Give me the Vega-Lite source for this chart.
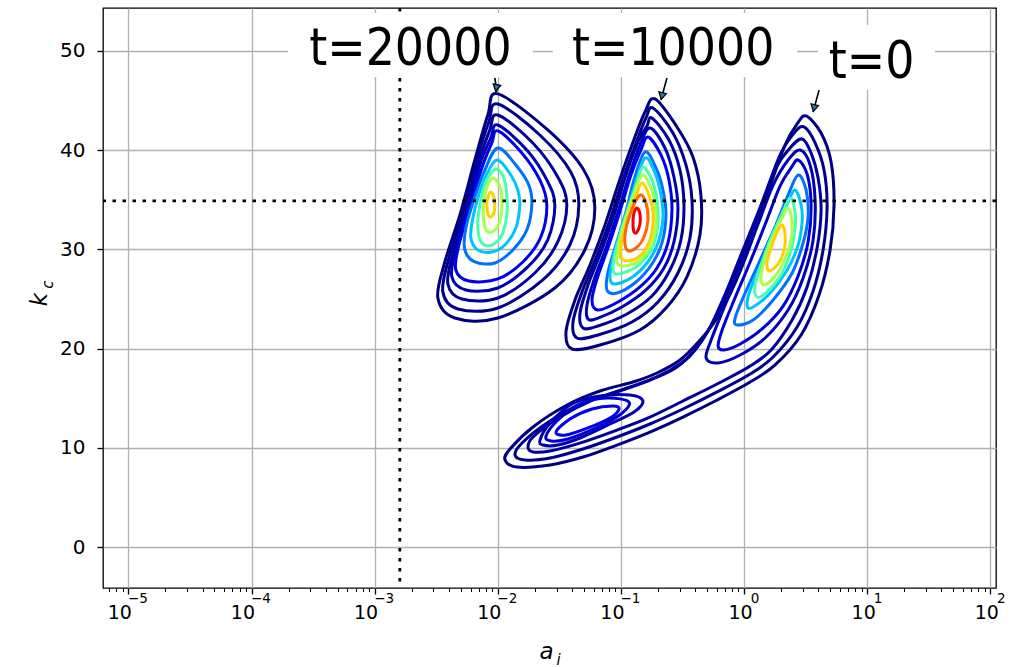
{
"$schema": "https://vega.github.io/schema/vega-lite/v6.json",
"width": 893, "height": 580,
"autosize": {"type": "none"},
"padding": {"left": 103, "top": 8, "right": 25, "bottom": 79},
"background": "white",
"config": {
 "view": {"stroke": "#000", "strokeWidth": 1.3},
 "axis": {"labelFont": "DejaVu Sans", "labelFontSize": 19, "labelColor": "#000", "tickColor": "#000", "tickWidth": 1.3, "tickSize": 6, "gridColor": "#b0b0b0", "gridWidth": 1.3, "domain": false, "labelFlush": false, "titleFont": "DejaVu Sans", "titleFontStyle": "italic", "titleFontWeight": "normal", "titleColor": "#000"}
},
"datasets": {
"contours": [
{"c":"A1","l":1,"o":0,"a":0.01,"k":45.67},{"c":"A1","l":1,"o":1,"a":0.02545,"k":42.04},{"c":"A1","l":1,"o":2,"a":0.04989,"k":38.0},{"c":"A1","l":1,"o":3,"a":0.0613,"k":34.27},{"c":"A1","l":1,"o":4,"a":0.05083,"k":29.94},{"c":"A1","l":1,"o":5,"a":0.02902,"k":26.11},{"c":"A1","l":1,"o":6,"a":0.01,"k":23.08},{"c":"A1","l":1,"o":7,"a":0.004477,"k":23.08},{"c":"A1","l":1,"o":8,"a":0.00326,"k":25.1},{"c":"A1","l":1,"o":9,"a":0.003713,"k":28.73},{"c":"A1","l":1,"o":10,"a":0.004917,"k":33.47},{"c":"A1","l":1,"o":11,"a":0.006506,"k":39.01},{"c":"A1","l":1,"o":12,"a":0.008296,"k":43.55},
{"c":"A2","l":2,"o":0,"a":0.01,"k":44.66},{"c":"A2","l":2,"o":1,"a":0.02193,"k":41.53},{"c":"A2","l":2,"o":2,"a":0.03913,"k":37.8},{"c":"A2","l":2,"o":3,"a":0.04545,"k":34.48},{"c":"A2","l":2,"o":4,"a":0.03841,"k":30.44},{"c":"A2","l":2,"o":5,"a":0.02319,"k":26.92},{"c":"A2","l":2,"o":6,"a":0.01,"k":24.09},{"c":"A2","l":2,"o":7,"a":0.004737,"k":23.99},{"c":"A2","l":2,"o":8,"a":0.003577,"k":25.71},{"c":"A2","l":2,"o":9,"a":0.004003,"k":29.13},{"c":"A2","l":2,"o":10,"a":0.005199,"k":33.67},{"c":"A2","l":2,"o":11,"a":0.006755,"k":39.01},{"c":"A2","l":2,"o":12,"a":0.008452,"k":42.84},
{"c":"A3","l":3,"o":0,"a":0.01,"k":43.55},{"c":"A3","l":3,"o":1,"a":0.01924,"k":40.73},{"c":"A3","l":3,"o":2,"a":0.03067,"k":37.3},{"c":"A3","l":3,"o":3,"a":0.03632,"k":34.48},{"c":"A3","l":3,"o":4,"a":0.03067,"k":30.75},{"c":"A3","l":3,"o":5,"a":0.01997,"k":27.62},{"c":"A3","l":3,"o":6,"a":0.01,"k":25.1},{"c":"A3","l":3,"o":7,"a":0.005103,"k":25.0},{"c":"A3","l":3,"o":8,"a":0.00393,"k":26.51},{"c":"A3","l":3,"o":9,"a":0.004313,"k":29.54},{"c":"A3","l":3,"o":10,"a":0.0055,"k":33.77},{"c":"A3","l":3,"o":11,"a":0.007012,"k":38.81},{"c":"A3","l":3,"o":12,"a":0.008612,"k":42.04},
{"c":"A4","l":4,"o":0,"a":0.01,"k":42.54},{"c":"A4","l":4,"o":1,"a":0.0172,"k":40.02},{"c":"A4","l":4,"o":2,"a":0.02499,"k":37.0},{"c":"A4","l":4,"o":3,"a":0.02902,"k":34.48},{"c":"A4","l":4,"o":4,"a":0.02545,"k":30.95},{"c":"A4","l":4,"o":5,"a":0.01751,"k":28.23},{"c":"A4","l":4,"o":6,"a":0.01,"k":26.11},{"c":"A4","l":4,"o":7,"a":0.0055,"k":25.91},{"c":"A4","l":4,"o":8,"a":0.004233,"k":27.22},{"c":"A4","l":4,"o":9,"a":0.004561,"k":29.94},{"c":"A4","l":4,"o":10,"a":0.00571,"k":33.97},{"c":"A4","l":4,"o":11,"a":0.007144,"k":38.51},{"c":"A4","l":4,"o":12,"a":0.008774,"k":41.23},
{"c":"A5","l":6,"o":0,"a":0.01,"k":41.94},{"c":"A5","l":6,"o":1,"a":0.01566,"k":39.72},{"c":"A5","l":6,"o":2,"a":0.02193,"k":37.0},{"c":"A5","l":6,"o":3,"a":0.02499,"k":34.48},{"c":"A5","l":6,"o":4,"a":0.02234,"k":31.25},{"c":"A5","l":6,"o":5,"a":0.01596,"k":28.73},{"c":"A5","l":6,"o":6,"a":0.01,"k":27.02},{"c":"A5","l":6,"o":7,"a":0.005817,"k":26.81},{"c":"A5","l":6,"o":8,"a":0.004561,"k":27.92},{"c":"A5","l":6,"o":9,"a":0.004826,"k":30.44},{"c":"A5","l":6,"o":10,"a":0.005927,"k":34.17},{"c":"A5","l":6,"o":11,"a":0.007416,"k":38.21},{"c":"A5","l":6,"o":12,"a":0.00894,"k":40.73},
{"c":"A6","l":7,"o":0,"a":0.01,"k":40.22},{"c":"A6","l":7,"o":1,"a":0.014,"k":38.51},{"c":"A6","l":7,"o":2,"a":0.01785,"k":36.49},{"c":"A6","l":7,"o":3,"a":0.01888,"k":34.48},{"c":"A6","l":7,"o":4,"a":0.0172,"k":31.96},{"c":"A6","l":7,"o":5,"a":0.01324,"k":29.94},{"c":"A6","l":7,"o":6,"a":0.009455,"k":28.63},{"c":"A6","l":7,"o":7,"a":0.006506,"k":28.73},{"c":"A6","l":7,"o":8,"a":0.005398,"k":29.94},{"c":"A6","l":7,"o":9,"a":0.0055,"k":32.16},{"c":"A6","l":7,"o":10,"a":0.006386,"k":34.98},{"c":"A6","l":7,"o":11,"a":0.007844,"k":38.0},
{"c":"A7","l":8,"o":0,"a":0.01,"k":39.01},{"c":"A7","l":8,"o":1,"a":0.01275,"k":37.5},{"c":"A7","l":8,"o":2,"a":0.01453,"k":35.99},{"c":"A7","l":8,"o":3,"a":0.01508,"k":34.48},{"c":"A7","l":8,"o":4,"a":0.014,"k":32.16},{"c":"A7","l":8,"o":5,"a":0.0114,"k":30.44},{"c":"A7","l":8,"o":6,"a":0.00894,"k":29.74},{"c":"A7","l":8,"o":7,"a":0.006882,"k":29.94},{"c":"A7","l":8,"o":8,"a":0.006038,"k":31.15},{"c":"A7","l":8,"o":9,"a":0.006267,"k":33.17},{"c":"A7","l":8,"o":10,"a":0.007012,"k":35.48},{"c":"A7","l":8,"o":11,"a":0.008296,"k":37.8},
{"c":"A8","l":9,"o":0,"a":0.009633,"k":38.1},{"c":"A8","l":9,"o":1,"a":0.01119,"k":37.2},{"c":"A8","l":9,"o":2,"a":0.01183,"k":35.48},{"c":"A8","l":9,"o":3,"a":0.01183,"k":33.47},{"c":"A8","l":9,"o":4,"a":0.01078,"k":31.45},{"c":"A8","l":9,"o":5,"a":0.00894,"k":30.44},{"c":"A8","l":9,"o":6,"a":0.007416,"k":30.65},{"c":"A8","l":9,"o":7,"a":0.006882,"k":32.16},{"c":"A8","l":9,"o":8,"a":0.007144,"k":34.48},{"c":"A8","l":9,"o":9,"a":0.007991,"k":36.79},
{"c":"A9","l":10,"o":0,"a":0.009108,"k":37.2},{"c":"A9","l":10,"o":1,"a":0.01038,"k":36.39},{"c":"A9","l":10,"o":2,"a":0.01078,"k":34.98},{"c":"A9","l":10,"o":3,"a":0.01058,"k":33.27},{"c":"A9","l":10,"o":4,"a":0.009633,"k":32.06},{"c":"A9","l":10,"o":5,"a":0.008296,"k":31.75},{"c":"A9","l":10,"o":6,"a":0.007698,"k":32.76},{"c":"A9","l":10,"o":7,"a":0.007698,"k":34.68},{"c":"A9","l":10,"o":8,"a":0.008142,"k":36.19},
{"c":"A10","l":11,"o":0,"a":0.008774,"k":35.79},{"c":"A10","l":11,"o":1,"a":0.00928,"k":35.28},{"c":"A10","l":11,"o":2,"a":0.009455,"k":34.48},{"c":"A10","l":11,"o":3,"a":0.00928,"k":33.67},{"c":"A10","l":11,"o":4,"a":0.008774,"k":33.27},{"c":"A10","l":11,"o":5,"a":0.008296,"k":33.57},{"c":"A10","l":11,"o":6,"a":0.008142,"k":34.48},{"c":"A10","l":11,"o":7,"a":0.008296,"k":35.28},
{"c":"B1","l":1,"o":0,"a":0.1888,"k":45.16},{"c":"B1","l":1,"o":1,"a":0.2849,"k":42.34},{"c":"B1","l":1,"o":2,"a":0.3841,"k":39.31},{"c":"B1","l":1,"o":3,"a":0.4457,"k":35.48},{"c":"B1","l":1,"o":4,"a":0.4377,"k":31.45},{"c":"B1","l":1,"o":5,"a":0.3433,"k":27.22},{"c":"B1","l":1,"o":6,"a":0.2362,"k":24.19},{"c":"B1","l":1,"o":7,"a":0.1426,"k":21.88},{"c":"B1","l":1,"o":8,"a":0.06755,"k":20.36},{"c":"B1","l":1,"o":9,"a":0.04003,"k":19.96},{"c":"B1","l":1,"o":10,"a":0.03577,"k":21.67},{"c":"B1","l":1,"o":11,"a":0.04233,"k":24.9},{"c":"B1","l":1,"o":12,"a":0.05603,"k":28.43},{"c":"B1","l":1,"o":13,"a":0.07416,"k":32.46},{"c":"B1","l":1,"o":14,"a":0.09455,"k":36.49},{"c":"B1","l":1,"o":15,"a":0.1228,"k":40.52},{"c":"B1","l":1,"o":16,"a":0.1566,"k":43.85},
{"c":"B2","l":2,"o":0,"a":0.1819,"k":44.25},{"c":"B2","l":2,"o":1,"a":0.2643,"k":41.73},{"c":"B2","l":2,"o":2,"a":0.337,"k":38.51},{"c":"B2","l":2,"o":3,"a":0.3771,"k":34.98},{"c":"B2","l":2,"o":4,"a":0.3632,"k":31.15},{"c":"B2","l":2,"o":5,"a":0.2902,"k":27.62},{"c":"B2","l":2,"o":6,"a":0.1997,"k":24.7},{"c":"B2","l":2,"o":7,"a":0.1228,"k":22.68},{"c":"B2","l":2,"o":8,"a":0.06506,"k":21.37},{"c":"B2","l":2,"o":9,"a":0.04394,"k":21.07},{"c":"B2","l":2,"o":10,"a":0.04078,"k":22.68},{"c":"B2","l":2,"o":11,"a":0.04826,"k":25.71},{"c":"B2","l":2,"o":12,"a":0.06267,"k":29.13},{"c":"B2","l":2,"o":13,"a":0.08142,"k":32.96},{"c":"B2","l":2,"o":14,"a":0.1019,"k":36.79},{"c":"B2","l":2,"o":15,"a":0.1324,"k":40.73},{"c":"B2","l":2,"o":16,"a":0.1596,"k":43.25},
{"c":"B3","l":3,"o":0,"a":0.1785,"k":43.25},{"c":"B3","l":3,"o":1,"a":0.2452,"k":41.03},{"c":"B3","l":3,"o":2,"a":0.3013,"k":38.0},{"c":"B3","l":3,"o":3,"a":0.3246,"k":34.48},{"c":"B3","l":3,"o":4,"a":0.3067,"k":30.95},{"c":"B3","l":3,"o":5,"a":0.2499,"k":27.92},{"c":"B3","l":3,"o":6,"a":0.1785,"k":25.3},{"c":"B3","l":3,"o":7,"a":0.1119,"k":23.49},{"c":"B3","l":3,"o":8,"a":0.06506,"k":22.28},{"c":"B3","l":3,"o":9,"a":0.04917,"k":22.08},{"c":"B3","l":3,"o":10,"a":0.04648,"k":23.59},{"c":"B3","l":3,"o":11,"a":0.05398,"k":26.41},{"c":"B3","l":3,"o":12,"a":0.06882,"k":29.74},{"c":"B3","l":3,"o":13,"a":0.08774,"k":33.47},{"c":"B3","l":3,"o":14,"a":0.1078,"k":37.2},{"c":"B3","l":3,"o":15,"a":0.1374,"k":40.83},{"c":"B3","l":3,"o":16,"a":0.1626,"k":42.44},
{"c":"B4","l":4,"o":0,"a":0.172,"k":42.24},{"c":"B4","l":4,"o":1,"a":0.2276,"k":40.22},{"c":"B4","l":4,"o":2,"a":0.2693,"k":37.3},{"c":"B4","l":4,"o":3,"a":0.2902,"k":34.17},{"c":"B4","l":4,"o":4,"a":0.2693,"k":30.75},{"c":"B4","l":4,"o":5,"a":0.2234,"k":28.13},{"c":"B4","l":4,"o":6,"a":0.1596,"k":25.91},{"c":"B4","l":4,"o":7,"a":0.1019,"k":24.19},{"c":"B4","l":4,"o":8,"a":0.06506,"k":23.08},{"c":"B4","l":4,"o":9,"a":0.05398,"k":22.98},{"c":"B4","l":4,"o":10,"a":0.05297,"k":24.4},{"c":"B4","l":4,"o":11,"a":0.06038,"k":26.92},{"c":"B4","l":4,"o":12,"a":0.07553,"k":30.14},{"c":"B4","l":4,"o":13,"a":0.09455,"k":33.77},{"c":"B4","l":4,"o":14,"a":0.1161,"k":37.4},{"c":"B4","l":4,"o":15,"a":0.1426,"k":40.52},
{"c":"B5","l":6,"o":0,"a":0.1657,"k":41.33},{"c":"B5","l":6,"o":1,"a":0.2111,"k":39.52},{"c":"B5","l":6,"o":2,"a":0.2452,"k":37.0},{"c":"B5","l":6,"o":3,"a":0.2594,"k":33.97},{"c":"B5","l":6,"o":4,"a":0.2407,"k":30.65},{"c":"B5","l":6,"o":5,"a":0.196,"k":28.13},{"c":"B5","l":6,"o":6,"a":0.1426,"k":26.21},{"c":"B5","l":6,"o":7,"a":0.09455,"k":24.7},{"c":"B5","l":6,"o":8,"a":0.06506,"k":23.89},{"c":"B5","l":6,"o":9,"a":0.05817,"k":24.9},{"c":"B5","l":6,"o":10,"a":0.06506,"k":27.32},{"c":"B5","l":6,"o":11,"a":0.07991,"k":30.44},{"c":"B5","l":6,"o":12,"a":0.1,"k":34.17},{"c":"B5","l":6,"o":13,"a":0.1205,"k":37.5},{"c":"B5","l":6,"o":14,"a":0.1453,"k":40.02},
{"c":"B6","l":7,"o":0,"a":0.1566,"k":39.82},{"c":"B6","l":7,"o":1,"a":0.1924,"k":38.21},{"c":"B6","l":7,"o":2,"a":0.2193,"k":35.99},{"c":"B6","l":7,"o":3,"a":0.2319,"k":33.47},{"c":"B6","l":7,"o":4,"a":0.2151,"k":30.65},{"c":"B6","l":7,"o":5,"a":0.1785,"k":28.53},{"c":"B6","l":7,"o":6,"a":0.1324,"k":26.71},{"c":"B6","l":7,"o":7,"a":0.0928,"k":25.6},{"c":"B6","l":7,"o":8,"a":0.07698,"k":25.91},{"c":"B6","l":7,"o":9,"a":0.07844,"k":27.72},{"c":"B6","l":7,"o":10,"a":0.09108,"k":30.44},{"c":"B6","l":7,"o":11,"a":0.1098,"k":33.77},{"c":"B6","l":7,"o":12,"a":0.1275,"k":37.0},
{"c":"B7","l":8,"o":0,"a":0.1566,"k":39.21},{"c":"B7","l":8,"o":1,"a":0.1888,"k":37.7},{"c":"B7","l":8,"o":2,"a":0.2111,"k":35.48},{"c":"B7","l":8,"o":3,"a":0.2193,"k":33.17},{"c":"B7","l":8,"o":4,"a":0.1997,"k":30.65},{"c":"B7","l":8,"o":5,"a":0.1626,"k":28.63},{"c":"B7","l":8,"o":6,"a":0.1205,"k":27.12},{"c":"B7","l":8,"o":7,"a":0.08774,"k":26.51},{"c":"B7","l":8,"o":8,"a":0.08142,"k":27.42},{"c":"B7","l":8,"o":9,"a":0.0894,"k":29.94},{"c":"B7","l":8,"o":10,"a":0.1058,"k":32.96},{"c":"B7","l":8,"o":11,"a":0.1275,"k":36.19},
{"c":"B8","l":9,"o":0,"a":0.1508,"k":38.31},{"c":"B8","l":9,"o":1,"a":0.1785,"k":37.0},{"c":"B8","l":9,"o":2,"a":0.196,"k":34.98},{"c":"B8","l":9,"o":3,"a":0.1997,"k":32.76},{"c":"B8","l":9,"o":4,"a":0.1819,"k":30.34},{"c":"B8","l":9,"o":5,"a":0.1453,"k":28.63},{"c":"B8","l":9,"o":6,"a":0.1098,"k":27.72},{"c":"B8","l":9,"o":7,"a":0.08774,"k":27.62},{"c":"B8","l":9,"o":8,"a":0.08774,"k":29.13},{"c":"B8","l":9,"o":9,"a":0.1,"k":31.75},{"c":"B8","l":9,"o":10,"a":0.1183,"k":34.48},{"c":"B8","l":9,"o":11,"a":0.1349,"k":36.69},
{"c":"B9","l":10,"o":0,"a":0.1508,"k":37.5},{"c":"B9","l":10,"o":1,"a":0.1751,"k":36.19},{"c":"B9","l":10,"o":2,"a":0.1888,"k":34.48},{"c":"B9","l":10,"o":3,"a":0.1924,"k":32.46},{"c":"B9","l":10,"o":4,"a":0.1751,"k":30.44},{"c":"B9","l":10,"o":5,"a":0.1426,"k":28.93},{"c":"B9","l":10,"o":6,"a":0.1078,"k":28.33},{"c":"B9","l":10,"o":7,"a":0.0928,"k":28.73},{"c":"B9","l":10,"o":8,"a":0.09815,"k":30.95},{"c":"B9","l":10,"o":9,"a":0.114,"k":33.97},{"c":"B9","l":10,"o":10,"a":0.1324,"k":36.19},
{"c":"B10","l":11,"o":0,"a":0.148,"k":36.69},{"c":"B10","l":11,"o":1,"a":0.1688,"k":35.48},{"c":"B10","l":11,"o":2,"a":0.1819,"k":33.77},{"c":"B10","l":11,"o":3,"a":0.1785,"k":31.75},{"c":"B10","l":11,"o":4,"a":0.1566,"k":29.94},{"c":"B10","l":11,"o":5,"a":0.1252,"k":28.93},{"c":"B10","l":11,"o":6,"a":0.1,"k":29.13},{"c":"B10","l":11,"o":7,"a":0.1019,"k":30.95},{"c":"B10","l":11,"o":8,"a":0.1183,"k":33.77},{"c":"B10","l":11,"o":9,"a":0.1349,"k":35.69},
{"c":"B11","l":12,"o":0,"a":0.1426,"k":35.48},{"c":"B11","l":12,"o":1,"a":0.1596,"k":34.68},{"c":"B11","l":12,"o":2,"a":0.1657,"k":32.96},{"c":"B11","l":12,"o":3,"a":0.1537,"k":31.25},{"c":"B11","l":12,"o":4,"a":0.1324,"k":30.14},{"c":"B11","l":12,"o":5,"a":0.1119,"k":29.94},{"c":"B11","l":12,"o":6,"a":0.1078,"k":31.45},{"c":"B11","l":12,"o":7,"a":0.1205,"k":33.77},
{"c":"B12","l":13,"o":0,"a":0.1349,"k":34.17},{"c":"B12","l":13,"o":1,"a":0.1426,"k":33.57},{"c":"B12","l":13,"o":2,"a":0.1426,"k":32.56},{"c":"B12","l":13,"o":3,"a":0.1349,"k":31.75},{"c":"B12","l":13,"o":4,"a":0.1275,"k":31.75},{"c":"B12","l":13,"o":5,"a":0.1252,"k":32.76},{"c":"B12","l":13,"o":6,"a":0.1275,"k":33.67},
{"c":"C1","l":1,"o":0,"a":3.186,"k":43.45},{"c":"C1","l":1,"o":1,"a":4.217,"k":41.73},{"c":"C1","l":1,"o":2,"a":5.083,"k":38.81},{"c":"C1","l":1,"o":3,"a":5.372,"k":34.48},{"c":"C1","l":1,"o":4,"a":4.989,"k":29.94},{"c":"C1","l":1,"o":5,"a":4.062,"k":25.4},{"c":"C1","l":1,"o":6,"a":2.902,"k":21.37},{"c":"C1","l":1,"o":7,"a":1.785,"k":18.35},{"c":"C1","l":1,"o":8,"a":1.119,"k":16.63},{"c":"C1","l":1,"o":9,"a":0.6038,"k":14.82},{"c":"C1","l":1,"o":10,"a":0.3186,"k":13.1},{"c":"C1","l":1,"o":11,"a":0.172,"k":11.59},{"c":"C1","l":1,"o":12,"a":0.0928,"k":10.28},{"c":"C1","l":1,"o":13,"a":0.04917,"k":9.07},{"c":"C1","l":1,"o":14,"a":0.02652,"k":8.27},{"c":"C1","l":1,"o":15,"a":0.01431,"k":8.06},{"c":"C1","l":1,"o":16,"a":0.01144,"k":8.77},{"c":"C1","l":1,"o":17,"a":0.01256,"k":9.88},{"c":"C1","l":1,"o":18,"a":0.01931,"k":12.1},{"c":"C1","l":1,"o":19,"a":0.03645,"k":14.31},{"c":"C1","l":1,"o":20,"a":0.06755,"k":15.73},{"c":"C1","l":1,"o":21,"a":0.1252,"k":16.63},{"c":"C1","l":1,"o":22,"a":0.196,"k":17.54},{"c":"C1","l":1,"o":23,"a":0.3013,"k":18.85},{"c":"C1","l":1,"o":24,"a":0.4394,"k":20.87},{"c":"C1","l":1,"o":25,"a":0.6038,"k":23.08},{"c":"C1","l":1,"o":26,"a":0.8452,"k":26.61},{"c":"C1","l":1,"o":27,"a":1.161,"k":30.95},{"c":"C1","l":1,"o":28,"a":1.566,"k":35.79},{"c":"C1","l":1,"o":29,"a":2.151,"k":40.52},{"c":"C1","l":1,"o":30,"a":2.693,"k":42.64},
{"c":"C2","l":2,"o":0,"a":3.067,"k":42.34},{"c":"C2","l":2,"o":1,"a":3.771,"k":40.73},{"c":"C2","l":2,"o":2,"a":4.457,"k":38.0},{"c":"C2","l":2,"o":3,"a":4.718,"k":34.27},{"c":"C2","l":2,"o":4,"a":4.377,"k":29.94},{"c":"C2","l":2,"o":5,"a":3.632,"k":25.81},{"c":"C2","l":2,"o":6,"a":2.693,"k":22.18},{"c":"C2","l":2,"o":7,"a":1.72,"k":19.15},{"c":"C2","l":2,"o":8,"a":1.119,"k":17.44},{"c":"C2","l":2,"o":9,"a":0.6038,"k":15.63},{"c":"C2","l":2,"o":10,"a":0.3186,"k":13.91},{"c":"C2","l":2,"o":11,"a":0.172,"k":12.4},{"c":"C2","l":2,"o":12,"a":0.0928,"k":11.09},{"c":"C2","l":2,"o":13,"a":0.04917,"k":9.88},{"c":"C2","l":2,"o":14,"a":0.02652,"k":8.97},{"c":"C2","l":2,"o":15,"a":0.01662,"k":8.77},{"c":"C2","l":2,"o":16,"a":0.01379,"k":9.27},{"c":"C2","l":2,"o":17,"a":0.01572,"k":10.48},{"c":"C2","l":2,"o":18,"a":0.02508,"k":12.5},{"c":"C2","l":2,"o":19,"a":0.04917,"k":14.52},{"c":"C2","l":2,"o":20,"a":0.0928,"k":15.63},{"c":"C2","l":2,"o":21,"a":0.172,"k":16.83},{"c":"C2","l":2,"o":22,"a":0.2849,"k":18.15},{"c":"C2","l":2,"o":23,"a":0.4155,"k":20.16},{"c":"C2","l":2,"o":24,"a":0.5603,"k":22.68},{"c":"C2","l":2,"o":25,"a":0.7698,"k":26.11},{"c":"C2","l":2,"o":26,"a":1.058,"k":30.44},{"c":"C2","l":2,"o":27,"a":1.426,"k":34.98},{"c":"C2","l":2,"o":28,"a":1.96,"k":39.52},{"c":"C2","l":2,"o":29,"a":2.545,"k":41.73},
{"c":"C3","l":3,"o":0,"a":2.957,"k":41.13},{"c":"C3","l":3,"o":1,"a":3.498,"k":39.72},{"c":"C3","l":3,"o":2,"a":3.987,"k":37.2},{"c":"C3","l":3,"o":3,"a":4.217,"k":33.97},{"c":"C3","l":3,"o":4,"a":3.913,"k":30.14},{"c":"C3","l":3,"o":5,"a":3.246,"k":26.21},{"c":"C3","l":3,"o":6,"a":2.452,"k":22.88},{"c":"C3","l":3,"o":7,"a":1.657,"k":19.86},{"c":"C3","l":3,"o":8,"a":1.119,"k":18.25},{"c":"C3","l":3,"o":9,"a":0.6038,"k":16.43},{"c":"C3","l":3,"o":10,"a":0.3186,"k":14.72},{"c":"C3","l":3,"o":11,"a":0.172,"k":13.1},{"c":"C3","l":3,"o":12,"a":0.0928,"k":11.79},{"c":"C3","l":3,"o":13,"a":0.04917,"k":10.58},{"c":"C3","l":3,"o":14,"a":0.02652,"k":9.68},{"c":"C3","l":3,"o":15,"a":0.01931,"k":9.58},{"c":"C3","l":3,"o":16,"a":0.01758,"k":10.08},{"c":"C3","l":3,"o":17,"a":0.01931,"k":11.09},{"c":"C3","l":3,"o":18,"a":0.03198,"k":13.1},{"c":"C3","l":3,"o":19,"a":0.05927,"k":14.82},{"c":"C3","l":3,"o":20,"a":0.1119,"k":16.03},{"c":"C3","l":3,"o":21,"a":0.196,"k":17.14},{"c":"C3","l":3,"o":22,"a":0.3186,"k":18.65},{"c":"C3","l":3,"o":23,"a":0.4003,"k":19.86},{"c":"C3","l":3,"o":24,"a":0.5297,"k":22.18},{"c":"C3","l":3,"o":25,"a":0.7144,"k":25.71},{"c":"C3","l":3,"o":26,"a":0.9633,"k":29.74},{"c":"C3","l":3,"o":27,"a":1.324,"k":33.97},{"c":"C3","l":3,"o":28,"a":1.819,"k":38.21},{"c":"C3","l":3,"o":29,"a":2.362,"k":40.22},
{"c":"U4","l":4,"o":0,"a":2.849,"k":40.02},{"c":"U4","l":4,"o":1,"a":3.433,"k":38.51},{"c":"U4","l":4,"o":2,"a":3.771,"k":34.98},{"c":"U4","l":4,"o":3,"a":3.632,"k":30.95},{"c":"U4","l":4,"o":4,"a":3.013,"k":27.12},{"c":"U4","l":4,"o":5,"a":2.276,"k":23.89},{"c":"U4","l":4,"o":6,"a":1.48,"k":21.07},{"c":"U4","l":4,"o":7,"a":0.928,"k":19.35},{"c":"U4","l":4,"o":8,"a":0.6152,"k":18.55},{"c":"U4","l":4,"o":9,"a":0.4917,"k":19.05},{"c":"U4","l":4,"o":10,"a":0.5398,"k":20.87},{"c":"U4","l":4,"o":11,"a":0.7012,"k":24.4},{"c":"U4","l":4,"o":12,"a":0.9455,"k":28.43},{"c":"U4","l":4,"o":13,"a":1.299,"k":32.56},{"c":"U4","l":4,"o":14,"a":1.72,"k":36.49},{"c":"U4","l":4,"o":15,"a":2.276,"k":39.01},
{"c":"U5","l":5,"o":0,"a":2.744,"k":39.01},{"c":"U5","l":5,"o":1,"a":3.246,"k":37.6},{"c":"U5","l":5,"o":2,"a":3.498,"k":34.48},{"c":"U5","l":5,"o":3,"a":3.307,"k":30.75},{"c":"U5","l":5,"o":4,"a":2.744,"k":27.32},{"c":"U5","l":5,"o":5,"a":2.073,"k":24.29},{"c":"U5","l":5,"o":6,"a":1.4,"k":21.98},{"c":"U5","l":5,"o":7,"a":0.928,"k":20.46},{"c":"U5","l":5,"o":8,"a":0.6882,"k":19.86},{"c":"U5","l":5,"o":9,"a":0.6152,"k":20.26},{"c":"U5","l":5,"o":10,"a":0.663,"k":21.88},{"c":"U5","l":5,"o":11,"a":0.8296,"k":24.9},{"c":"U5","l":5,"o":12,"a":1.119,"k":28.73},{"c":"U5","l":5,"o":13,"a":1.508,"k":32.76},{"c":"U5","l":5,"o":14,"a":1.96,"k":36.39},{"c":"U5","l":5,"o":15,"a":2.407,"k":38.21},
{"c":"U6","l":7,"o":0,"a":2.744,"k":37.5},{"c":"U6","l":7,"o":1,"a":3.186,"k":35.99},{"c":"U6","l":7,"o":2,"a":3.307,"k":33.27},{"c":"U6","l":7,"o":3,"a":3.013,"k":30.65},{"c":"U6","l":7,"o":4,"a":2.452,"k":27.62},{"c":"U6","l":7,"o":5,"a":1.72,"k":24.9},{"c":"U6","l":7,"o":6,"a":1.183,"k":22.88},{"c":"U6","l":7,"o":7,"a":0.8774,"k":22.38},{"c":"U6","l":7,"o":8,"a":0.8452,"k":23.08},{"c":"U6","l":7,"o":9,"a":1.019,"k":25.6},{"c":"U6","l":7,"o":10,"a":1.349,"k":28.93},{"c":"U6","l":7,"o":11,"a":1.785,"k":32.26},{"c":"U6","l":7,"o":12,"a":2.276,"k":35.48},
{"c":"U7","l":8,"o":0,"a":2.594,"k":35.99},{"c":"U7","l":8,"o":1,"a":2.902,"k":34.48},{"c":"U7","l":8,"o":2,"a":2.957,"k":32.76},{"c":"U7","l":8,"o":3,"a":2.744,"k":30.44},{"c":"U7","l":8,"o":4,"a":2.234,"k":27.92},{"c":"U7","l":8,"o":5,"a":1.626,"k":25.6},{"c":"U7","l":8,"o":6,"a":1.183,"k":24.19},{"c":"U7","l":8,"o":7,"a":1.058,"k":24.29},{"c":"U7","l":8,"o":8,"a":1.119,"k":25.91},{"c":"U7","l":8,"o":9,"a":1.426,"k":28.93},{"c":"U7","l":8,"o":10,"a":1.853,"k":32.26},{"c":"U7","l":8,"o":11,"a":2.276,"k":34.78},
{"c":"U8","l":9,"o":0,"a":2.362,"k":35.18},{"c":"U8","l":9,"o":1,"a":2.594,"k":33.77},{"c":"U8","l":9,"o":2,"a":2.594,"k":32.16},{"c":"U8","l":9,"o":3,"a":2.407,"k":29.94},{"c":"U8","l":9,"o":4,"a":2.034,"k":27.62},{"c":"U8","l":9,"o":5,"a":1.537,"k":25.71},{"c":"U8","l":9,"o":6,"a":1.275,"k":25.2},{"c":"U8","l":9,"o":7,"a":1.228,"k":26.41},{"c":"U8","l":9,"o":8,"a":1.4,"k":28.73},{"c":"U8","l":9,"o":9,"a":1.626,"k":30.95},{"c":"U8","l":9,"o":10,"a":1.96,"k":33.17},
{"c":"U9","l":10,"o":0,"a":2.276,"k":34.17},{"c":"U9","l":10,"o":1,"a":2.452,"k":32.76},{"c":"U9","l":10,"o":2,"a":2.407,"k":30.95},{"c":"U9","l":10,"o":3,"a":2.151,"k":29.13},{"c":"U9","l":10,"o":4,"a":1.819,"k":27.42},{"c":"U9","l":10,"o":5,"a":1.453,"k":26.41},{"c":"U9","l":10,"o":6,"a":1.374,"k":27.32},{"c":"U9","l":10,"o":7,"a":1.508,"k":29.44},{"c":"U9","l":10,"o":8,"a":1.751,"k":31.45},{"c":"U9","l":10,"o":9,"a":2.034,"k":33.17},
{"c":"U10","l":11,"o":0,"a":2.034,"k":32.46},{"c":"U10","l":11,"o":1,"a":2.151,"k":31.45},{"c":"U10","l":11,"o":2,"a":2.111,"k":29.94},{"c":"U10","l":11,"o":3,"a":1.888,"k":28.53},{"c":"U10","l":11,"o":4,"a":1.596,"k":27.82},{"c":"U10","l":11,"o":5,"a":1.537,"k":28.73},{"c":"U10","l":11,"o":6,"a":1.688,"k":30.44},{"c":"U10","l":11,"o":7,"a":1.853,"k":31.75},
{"c":"L4","l":4,"o":0,"a":0.022,"k":10.79},{"c":"L4","l":4,"o":1,"a":0.02652,"k":12.5},{"c":"L4","l":4,"o":2,"a":0.04003,"k":14.42},{"c":"L4","l":4,"o":3,"a":0.06755,"k":15.22},{"c":"L4","l":4,"o":4,"a":0.1183,"k":15.32},{"c":"L4","l":4,"o":5,"a":0.1508,"k":14.72},{"c":"L4","l":4,"o":6,"a":0.1275,"k":13.61},{"c":"L4","l":4,"o":7,"a":0.07844,"k":12.3},{"c":"L4","l":4,"o":8,"a":0.04648,"k":10.99},{"c":"L4","l":4,"o":9,"a":0.0308,"k":10.28},{"c":"L4","l":4,"o":10,"a":0.02328,"k":10.28},
{"c":"L5","l":5,"o":0,"a":0.02462,"k":11.19},{"c":"L5","l":5,"o":1,"a":0.0308,"k":12.8},{"c":"L5","l":5,"o":2,"a":0.04648,"k":14.42},{"c":"L5","l":5,"o":3,"a":0.07698,"k":15.02},{"c":"L5","l":5,"o":4,"a":0.1161,"k":14.62},{"c":"L5","l":5,"o":5,"a":0.1,"k":13.41},{"c":"L5","l":5,"o":6,"a":0.06267,"k":12.0},{"c":"L5","l":5,"o":7,"a":0.03713,"k":10.89},{"c":"L5","l":5,"o":8,"a":0.02705,"k":10.69},
{"c":"L6","l":6,"o":0,"a":0.02968,"k":11.59},{"c":"L6","l":6,"o":1,"a":0.03855,"k":12.9},{"c":"L6","l":6,"o":2,"a":0.05817,"k":13.91},{"c":"L6","l":6,"o":3,"a":0.08612,"k":14.21},{"c":"L6","l":6,"o":4,"a":0.09633,"k":13.91},{"c":"L6","l":6,"o":5,"a":0.08142,"k":13.0},{"c":"L6","l":6,"o":6,"a":0.05398,"k":12.0},{"c":"L6","l":6,"o":7,"a":0.03577,"k":11.29}
],
"boxes": [
{"a":0.0001975,"a2":0.01924,"k":53.83,"k2":47.38},
{"a":0.02795,"a2":2.693,"k":53.83,"k2":47.38},
{"a":3.987,"a2":35.5,"k":52.62,"k2":46.07}
],
"labels": [
{"t":"t=20000","a":0.001949,"k":48.59},
{"t":"t=10000","a":0.2652,"k":48.59},
{"t":"t=0","a":10.84,"k":47.28}
],
"arrows": [
{"a":0.009455,"k":47.28,"a2":0.009815,"k2":45.87,"ha":0.00972,"hk":46.27},
{"a":0.2362,"k":47.28,"a2":0.2111,"k2":45.06,"ha":0.2151,"hk":45.46},
{"a":4.062,"k":46.07,"a2":3.632,"k2":43.85,"ha":3.697,"hk":44.25}
]
},
"resolve": {"axis": {"x": "independent", "y": "independent"}},
"layer": [
{
 "data": {"name": "contours"},
 "mark": {"type": "line", "interpolate": "cardinal-closed", "strokeWidth": 3, "strokeJoin": "round"},
 "encoding": {
  "x": {"field": "a", "type": "quantitative", "scale": {"type": "log", "domain": [6.22e-6, 111], "nice": false},
   "axis": {"values": [1e-5, 1e-4, 0.001, 0.01, 0.1], "grid": true, "labelExpr": "'10'", "labelAlign": "right", "labelOffset": 3, "labelPadding": 9, "title": "a", "titleFontSize": 23, "titleX": 443, "titleY": 70, "titleBaseline": "alphabetic", "titleAlign": "center"}},
  "y": {"field": "k", "type": "quantitative", "scale": {"domain": [-4.13, 54.33], "nice": false, "zero": false},
   "axis": {"values": [0, 10, 20, 30, 40, 50], "grid": true, "labelFontSize": 20, "labelPadding": 12, "title": "k", "titleFontSize": 23, "titleAngle": -90, "titleX": -57, "titleY": 291, "titleBaseline": "alphabetic", "titleAlign": "center"}},
  "detail": {"field": "c"},
  "order": {"field": "o", "type": "quantitative"},
  "color": {"field": "l", "type": "ordinal", "legend": null,
   "scale": {"domain": [1,2,3,4,5,6,7,8,9,10,11,12,13], "range": ["#00007f","#00008c","#00009c","#0000b4","#0000d0","#0000ec","#0070ff","#00c4ff","#48ffae","#a8ff4e","#ffd000","#ff6800","#f00000"]}}
 }
},
{
 "data": {"values": [{"a": 0.0016}]},
 "mark": {"type": "rule", "color": "#000", "strokeWidth": 2.8, "strokeDash": [3.5, 6.5]},
 "encoding": {
  "x": {"field": "a", "type": "quantitative",
   "axis": {"orient": "bottom", "values": [7e-6,8e-6,9e-6,2e-5,3e-5,4e-5,5e-5,6e-5,7e-5,8e-5,9e-5,2e-4,3e-4,4e-4,5e-4,6e-4,7e-4,8e-4,9e-4,0.002,0.003,0.004,0.005,0.006,0.007,0.008,0.009,0.02,0.03,0.04,0.05,0.06,0.07,0.08,0.09,0.2,0.3,0.4,0.5,0.6,0.7,0.8,0.9,2,3,4,5,6,7,8,9,20,30,40,50,60,70,80,90], "labels": false, "grid": false, "tickSize": 3.5, "tickWidth": 1, "title": "i", "titleFontSize": 15, "titleX": 455, "titleY": 76, "titleBaseline": "alphabetic", "titleAlign": "center"}}
 }
},
{
 "data": {"values": [{"k": 34.88}]},
 "mark": {"type": "rule", "color": "#000", "strokeWidth": 2.8, "strokeDash": [3.5, 6.5]},
 "encoding": {
  "y": {"field": "k", "type": "quantitative",
   "axis": {"orient": "left", "values": [], "labels": false, "ticks": false, "grid": false, "title": "c", "titleFontSize": 15, "titleAngle": -90, "titleX": -51, "titleY": 276, "titleBaseline": "alphabetic", "titleAlign": "center"}}
 }
},
{
 "data": {"name": "boxes"},
 "mark": {"type": "rect", "fill": "white", "stroke": null},
 "encoding": {
  "x": {"field": "a", "type": "quantitative",
   "axis": {"orient": "bottom", "values": [1e-5, 1e-4, 0.001, 0.01, 0.1], "grid": false, "ticks": false, "labelFontSize": 13.5, "labelExpr": "['−5','−4','−3','−2','−1'][round(log(datum.value)/LN10)+5]", "labelAlign": "left", "labelOffset": -1, "labelPadding": 3, "title": null}},
  "x2": {"field": "a2"},
  "y": {"field": "k", "type": "quantitative", "axis": null},
  "y2": {"field": "k2"}
 }
},
{
 "data": {"name": "labels"},
 "mark": {"type": "text", "font": "DejaVu Sans Condensed, Liberation Sans Narrow, Liberation Sans", "fontSize": 51, "align": "center", "baseline": "alphabetic", "color": "#000"},
 "encoding": {
  "x": {"field": "a", "type": "quantitative",
   "axis": {"orient": "bottom", "values": [1, 10, 100], "grid": true, "labelExpr": "'10'", "labelAlign": "right", "labelOffset": 8, "labelPadding": 9, "title": null}},
  "y": {"field": "k", "type": "quantitative", "axis": null},
  "text": {"field": "t"}
 }
},
{
 "data": {"name": "arrows"},
 "mark": {"type": "rule", "color": "#000", "strokeWidth": 1.6},
 "encoding": {
  "x": {"field": "a", "type": "quantitative",
   "axis": {"orient": "bottom", "values": [1, 10, 100], "grid": false, "ticks": false, "labelFontSize": 13.5, "labelExpr": "['0','1','2'][round(log(datum.value)/LN10)]", "labelAlign": "left", "labelOffset": 6, "labelPadding": 3, "title": null}},
  "x2": {"field": "a2"},
  "y": {"field": "k", "type": "quantitative", "axis": null},
  "y2": {"field": "k2"}
 }
},
{
 "data": {"name": "arrows"},
 "mark": {"type": "point", "shape": "triangle-down", "size": 60, "filled": true, "fill": "#1f77b4", "stroke": "#000", "strokeWidth": 1.2, "opacity": 1, "angle": 12},
 "encoding": {
  "x": {"field": "ha", "type": "quantitative", "axis": null},
  "y": {"field": "hk", "type": "quantitative", "axis": null}
 }
}
]
}
